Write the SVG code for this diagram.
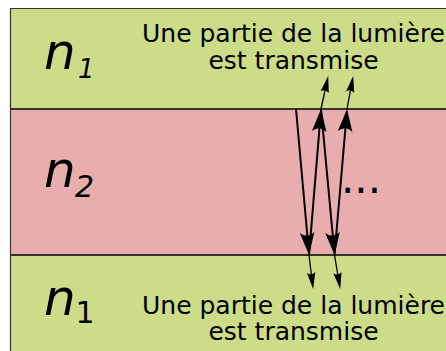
<svg xmlns="http://www.w3.org/2000/svg" width="446" height="351" viewBox="0 0 446 351">
<style>
.lbl{font-family:"DejaVu Sans",sans-serif;font-size:25px;fill:#000;text-anchor:middle}
.n{font-family:"DejaVu Sans",sans-serif;font-style:italic;fill:#000}
.ray{stroke:#000;stroke-width:2;fill:none;marker-end:url(#big)}
.tr{stroke:#000;stroke-width:1.3;fill:none;marker-end:url(#small)}
.iface{stroke:#000;stroke-width:1.3}
</style>
<defs>
<marker id="big" markerUnits="userSpaceOnUse" orient="auto" markerWidth="40" markerHeight="40" viewBox="-20 -10 30 20" refX="0" refY="0" overflow="visible">
<path d="M3,0 L-14,-5.5 Q-9,0 -14,5.5 Z" fill="#000"/>
</marker>
<marker id="small" markerUnits="userSpaceOnUse" orient="auto" markerWidth="30" markerHeight="30" viewBox="-15 -8 20 16" refX="0" refY="0" overflow="visible">
<path d="M2,0 L-9,-2.8 Q-6.5,0 -9,2.8 Z" fill="#000"/>
</marker>
</defs>
<g id="layer-top">
<rect x="10.5" y="8.5" width="450" height="101" fill="#cddc88"/>
<text class="n" x="44" y="69" font-size="50">n</text>
<text class="n" x="78" y="78" font-size="26">1</text>
<text class="lbl" x="293.5" y="42">Une partie de la lumière</text>
<text class="lbl" x="293.5" y="68.5">est transmise</text>
</g>
<g id="layer-middle">
<rect x="10.5" y="109" width="450" height="146" fill="#e8aeae"/>
<text class="n" x="44" y="187" font-size="50">n</text>
<text class="n" x="75" y="196.5" font-size="30">2</text>
<text x="341" y="193" font-family="DejaVu Sans,sans-serif" font-size="42">...</text>
</g>
<g id="layer-bottom">
<rect x="10.5" y="255" width="450" height="110" fill="#cddc88"/>
<text class="n" x="44" y="315" font-size="50">n</text>
<text x="75.5" y="323" font-family="DejaVu Sans,sans-serif" font-size="30">1</text>
<text class="lbl" x="293.5" y="313.5">Une partie de la lumière</text>
<text class="lbl" x="293.5" y="339.5">est transmise</text>
</g>
<g id="borders">
<line class="iface" x1="10.5" y1="109" x2="446" y2="109"/>
<line class="iface" x1="10.5" y1="255" x2="446" y2="255"/>
<path d="M10.5,351 V8.5 H446" fill="none" stroke="#333" stroke-width="1.2"/>
</g>
<g id="connectors">
<line class="ray" x1="296" y1="109" x2="308.73" y2="251"/>
<line class="ray" x1="309" y1="255" x2="320.75" y2="113"/>
<line class="ray" x1="321" y1="109" x2="334.22" y2="251"/>
<line class="ray" x1="334.5" y1="255" x2="346.74" y2="113"/>
<line class="tr" x1="321" y1="109" x2="327.57" y2="78.95"/>
<line class="tr" x1="347" y1="109" x2="352.63" y2="78.97"/>
<line class="tr" x1="309" y1="255" x2="312.76" y2="286"/>
<line class="tr" x1="334.5" y1="255" x2="339.67" y2="286"/>
</g>
</svg>
